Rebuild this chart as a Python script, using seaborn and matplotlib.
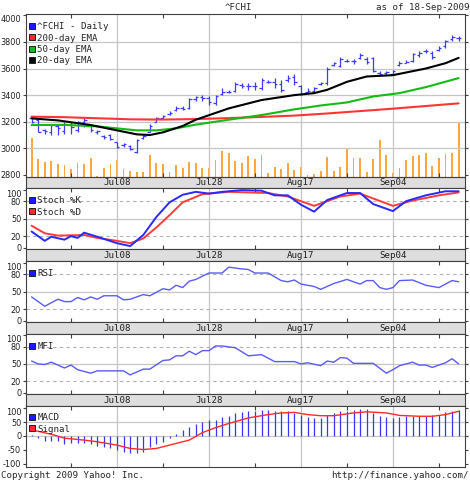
import matplotlib
matplotlib.use("Agg")
import matplotlib.pyplot as plt
from matplotlib.lines import Line2D
import pandas as pd
import seaborn as sns

# ---- values (day index 0 = 19-Jun-2009) ----
days = pd.bdate_range("2009-06-19", "2009-09-18")
label_days = ["2009-07-08", "2009-07-28", "2009-08-17", "2009-09-04"]
date_labels = ["Jul08", "Jul28", "Aug17", "Sep04"]
minor_days = ["2009-06-29", "2009-07-17", "2009-08-06", "2009-08-26", "2009-09-15"]

price_open = [3230, 3215, 3135, 3120, 3170, 3130, 3185, 3140, 3195, 3165,
              3125, 3095, 3100, 3045, 3025, 3020, 2975, 3080, 3125, 3200,
              3225, 3260, 3285, 3300, 3300, 3370, 3385, 3380, 3340, 3410,
              3425, 3430, 3475, 3465, 3470, 3450, 3500, 3500, 3480, 3510,
              3540, 3470, 3420, 3430, 3480, 3490, 3630, 3620, 3660, 3660,
              3680, 3670, 3680, 3570, 3565, 3560, 3630, 3645, 3660, 3700,
              3730, 3720, 3740, 3770, 3820, 3830]
price_high = [3237, 3220, 3146, 3183, 3183, 3195, 3195, 3207, 3232, 3171,
              3134, 3098, 3110, 3049, 3037, 3024, 3073, 3110, 3183, 3232,
              3250, 3280, 3317, 3315, 3378, 3395, 3402, 3390, 3402, 3451,
              3439, 3500, 3488, 3488, 3500, 3525, 3512, 3525, 3512, 3549,
              3561, 3476, 3451, 3464, 3500, 3610, 3647, 3683, 3671, 3671,
              3720, 3683, 3683, 3585, 3585, 3590, 3659, 3664, 3720, 3732,
              3744, 3732, 3769, 3817, 3849, 3842]
price_low = [3190, 3122, 3110, 3100, 3100, 3110, 3110, 3122, 3160, 3125,
             3110, 3073, 3061, 3000, 3012, 2988, 2963, 3073, 3122, 3195,
             3220, 3250, 3280, 3285, 3293, 3354, 3354, 3329, 3329, 3402,
             3415, 3427, 3451, 3439, 3439, 3439, 3488, 3451, 3427, 3500,
             3476, 3402, 3415, 3415, 3476, 3476, 3622, 3610, 3647, 3634,
             3671, 3634, 3573, 3549, 3549, 3549, 3622, 3639, 3647, 3683,
             3720, 3671, 3732, 3756, 3805, 3805]
price_close = [3200, 3125, 3130, 3175, 3150, 3185, 3160, 3195, 3215, 3135,
               3128, 3085, 3070, 3010, 3030, 2998, 3065, 3095, 3170, 3225,
               3240, 3265, 3305, 3295, 3370, 3385, 3380, 3345, 3390, 3420,
               3427, 3485, 3470, 3470, 3465, 3515, 3500, 3480, 3440, 3530,
               3500, 3410, 3430, 3450, 3490, 3600, 3640, 3670, 3660, 3655,
               3700, 3650, 3585, 3560, 3575, 3585, 3645, 3650, 3710, 3720,
               3735, 3690, 3755, 3805, 3835, 3830]
volume_m = [156, 72, 60, 64, 52, 48, 32, 56, 52, 76, 4, 36, 52, 68, 32, 24, 20, 20,
            88, 56, 52, 20, 48, 36, 60, 56, 36, 36, 68, 104, 96, 64, 56, 84, 72, 88,
            16, 40, 32, 56, 28, 40, 8, 12, 24, 80, 24, 40, 116, 76, 76, 20, 72, 148,
            88, 16, 36, 68, 84, 88, 96, 44, 76, 92, 96, 212]

ema200_day = [0, 5, 10, 15, 20, 25, 30, 35, 40, 45, 50, 55, 60, 65]
ema200 = [3238, 3234, 3226, 3218, 3216, 3220, 3227, 3236, 3246, 3262, 3280, 3298, 3318, 3338]
ema50_day = [0, 5, 10, 13, 16, 19, 22, 25, 30, 35, 40, 44, 48, 52, 56, 60, 65]
ema50 = [3175, 3176, 3165, 3150, 3135, 3135, 3150, 3178, 3215, 3250, 3293, 3322, 3345, 3390, 3415, 3460, 3528]
ema20_day = [0, 4, 9, 13, 16, 18, 20, 23, 25, 30, 35, 40, 43, 45, 48, 51, 55, 60, 63, 65]
ema20 = [3225, 3210, 3175, 3135, 3105, 3100, 3120, 3168, 3215, 3300, 3363, 3400, 3415, 3440,
         3500, 3540, 3550, 3600, 3640, 3680]

stoch_k_day = [0, 2, 3, 5, 6, 7, 8, 10, 13, 15, 17, 19, 21, 23, 25, 27, 29, 32, 35, 37, 39,
               41, 43, 45, 48, 50, 52, 55, 57, 60, 63, 65]
stoch_k = [28, 12, 19, 14, 20, 17, 26, 19, 8, 3, 22, 53, 78, 91, 96, 93, 96, 99, 98, 90, 90,
           74, 62, 82, 94, 94, 75, 63, 80, 90, 97, 97]
stoch_d_day = [0, 2, 4, 8, 10, 13, 15, 17, 19, 21, 23, 26, 30, 36, 39, 43, 47, 50, 55, 58, 62, 65]
stoch_d = [38, 25, 21, 22, 17, 12, 8, 16, 35, 56, 78, 92, 96, 94, 88, 72, 88, 93, 72, 81, 90, 95]

rsi_day = [0, 2, 4, 5, 6, 7, 8, 9, 10, 11, 13, 14, 15, 17, 18, 20, 21, 22, 23, 24, 25, 27,
           29, 30, 32, 33, 34, 36, 38, 39, 40, 41, 43, 44, 46, 48, 50, 51, 52, 53, 54, 55,
           56, 58, 60, 62, 64, 65]
rsi = [41, 25, 37, 33, 33, 40, 36, 41, 37, 43, 43, 36, 37, 45, 43, 55, 53, 61, 57, 68, 71, 82,
       82, 92, 89, 88, 82, 82, 69, 67, 70, 63, 59, 54, 64, 71, 63, 69, 69, 57, 54, 57,
       69, 70, 61, 57, 69, 67]

mfi_day = [0, 1, 2, 3, 5, 6, 7, 9, 10, 14, 15, 17, 18, 20, 21, 22, 23, 24, 25, 26, 27, 28,
           29, 31, 33, 35, 37, 40, 41, 42, 44, 45, 46, 47, 48, 49, 52, 54, 55, 56, 58, 59,
           60, 61, 63, 64, 65]
mfi = [55, 50, 49, 53, 43, 48, 40, 34, 38, 38, 31, 41, 41, 56, 57, 64, 64, 72, 66, 73, 73, 81,
       81, 78, 64, 66, 54, 54, 50, 52, 47, 55, 53, 61, 60, 51, 51, 34, 40, 47, 53, 48,
       48, 44, 52, 59, 50]

macd = [4, -8, -18, -20, -20, -29, -24, -27, -27, -29,
        -37, -41, -45, -51, -57, -61, -61, -57, -40, -30,
        -22, -8, 7, 20, 34, 44, 52, 56, 59, 68,
        71, 83, 85, 89, 89, 93, 95, 89, 89, 89,
        83, 74, 67, 65, 65, 74, 83, 91, 89, 95,
        98, 98, 83, 71, 68, 65, 67, 71, 73, 73,
        73, 74, 77, 85, 89, 95]
signal_day = [0, 3, 5, 8, 10, 13, 15, 17, 19, 21, 24, 26, 28, 30, 33, 36, 38, 40, 42, 44, 46,
              49, 51, 54, 56, 59, 61, 63, 65]
signal = [22, 6, -8, -15, -21, -33, -45, -49, -45, -33, -15, 12, 30, 45, 65, 77, 83, 85, 77,
          73, 73, 83, 87, 83, 74, 71, 71, 77, 89]

# ---- look ----
sns.set_style("white")
plt.rcParams["font.family"] = ["DejaVu Sans Mono"]
FS = 6.6
EDGE = "#404040"
GRID = "#c6c6c6"
BLUE = "#3c3cff"

W, H = 470, 480
fig = plt.figure(figsize=(W / 100, H / 100), dpi=100)
x_all = list(range(len(days)))
major_x = [days.get_loc(pd.Timestamp(d)) for d in label_days]
minor_x = [days.get_loc(pd.Timestamp(d)) for d in minor_days]
XLIM = (-0.85, 65.97)


def px_axes(top, bottom, left=26, right=465):
    return fig.add_axes([left / W, 1 - bottom / H, (right - left) / W, (bottom - top) / H])


def style(ax, ylim, yticks, solid=(), dashed=()):
    ax.set_xlim(XLIM)
    ax.set_ylim(ylim)
    for s in ax.spines.values():
        s.set_color(EDGE)
        s.set_linewidth(0.8)
    for x in major_x:
        ax.axvline(x, color=GRID, lw=0.9, zorder=0)
    for y in solid:
        ax.axhline(y, color=GRID, lw=0.9, zorder=0)
    for y in dashed:
        ax.axhline(y, color="#b0b0b0", lw=0.8, ls=(0, (3, 3)), zorder=0)
    ax.set_xticks(minor_x)
    ax.set_xticklabels([])
    ax.tick_params(axis="x", direction="in", length=3, top=True, bottom=True, color=EDGE)
    ax.set_yticks(yticks)
    ax.set_yticklabels([str(t) for t in yticks], fontfamily="DejaVu Sans", fontsize=5.9)
    ax.tick_params(axis="y", direction="out", length=2.5, left=True, right=True,
                   color=EDGE, pad=1, labelcolor="#202020")


def add_legend(ax, names, colors, top_px):
    h = ax.get_position().height * H
    handles = [Line2D([], [], marker="s", ls="none", markersize=5, markerfacecolor=c,
                      markeredgecolor="#202020", markeredgewidth=0.7) for c in colors]
    ax.legend(handles, names, loc="upper left", bbox_to_anchor=(2.5 / 439, 1 - top_px / h),
              frameon=False, fontsize=FS, handlelength=0.7, handletextpad=0.25,
              labelspacing=0.25, borderpad=0, borderaxespad=0)


def strip(top, bottom):
    s = px_axes(top, bottom)
    s.set_facecolor("#dedede")
    s.set_xlim(XLIM)
    s.set_ylim(0, 1)
    s.set_xticks([])
    s.set_yticks([])
    for sp in s.spines.values():
        sp.set_color(EDGE)
        sp.set_linewidth(0.8)
    for x, lab in zip(major_x, date_labels):
        s.text(x, 0.45, lab, ha="center", va="center", fontsize=FS, color="#202020")


# ---- main price panel ----
ax = px_axes(14, 176.5)
vax = ax.twinx()
vax.bar(x_all, volume_m, width=0.28, color="#ffa63c", linewidth=0)
vax.set_ylim(0, 650)
vax.set_axis_off()
ax.set_zorder(vax.get_zorder() + 1)
ax.patch.set_visible(False)

style(ax, (2788, 4010), [2800, 3000, 3200, 3400, 3600, 3800, 4000],
      solid=[3000, 3200, 3400, 3600, 3800])
ax.vlines(x_all, price_low, price_high, color=BLUE, lw=0.9)
ax.hlines(price_open, [i - 0.38 for i in x_all], x_all, color=BLUE, lw=0.9)
ax.hlines(price_close, x_all, [i + 0.38 for i in x_all], color=BLUE, lw=0.9)
sns.lineplot(x=ema200_day, y=ema200, ax=ax, color="#ff3434", linewidth=1.5)
sns.lineplot(x=ema50_day, y=ema50, ax=ax, color="#14bb14", linewidth=1.5)
sns.lineplot(x=ema20_day, y=ema20, ax=ax, color="#000000", linewidth=1.5)
add_legend(ax, ["^FCHI - Daily", "200-day EMA", "50-day EMA", "20-day EMA"],
           ["#1a1aff", "#ff2a2a", "#10c010", "#000000"], 8.4)
strip(176.5, 188)

# ---- stochastic ----
ax1 = px_axes(188, 249)
style(ax1, (-2, 102.6), [0, 20, 50, 80, 100], solid=[50], dashed=[20, 80])
sns.lineplot(x=stoch_d_day, y=stoch_d, ax=ax1, color="#ff3c3c", linewidth=1.4)
sns.lineplot(x=stoch_k_day, y=stoch_k, ax=ax1, color="#2a2aff", linewidth=1.4)
add_legend(ax1, ["Stoch %K", "Stoch %D"], ["#1a1aff", "#ff2a2a"], 8.4)
strip(249, 261)

# ---- RSI ----
ax2 = px_axes(261, 322)
style(ax2, (-2, 102.6), [0, 20, 50, 80, 100], solid=[50], dashed=[20, 80])
sns.lineplot(x=rsi_day, y=rsi, ax=ax2, color="#5a5aff", linewidth=1.0)
add_legend(ax2, ["RSI"], ["#1a1aff"], 8.4)
strip(322, 333.5)

# ---- MFI ----
ax3 = px_axes(333.5, 394)
style(ax3, (-2, 102.6), [0, 20, 50, 80, 100], solid=[50], dashed=[20, 80])
sns.lineplot(x=mfi_day, y=mfi, ax=ax3, color="#5a5aff", linewidth=1.0)
add_legend(ax3, ["MFI"], ["#1a1aff"], 8.4)
strip(394, 406)

# ---- MACD ----
ax4 = px_axes(406, 467)
style(ax4, (-112, 108), [-100, -50, 0, 50, 100], solid=[50, 0])
ax4.vlines(x_all, 0, macd, color="#3535ff", lw=0.9)
sns.lineplot(x=signal_day, y=signal, ax=ax4, color="#ff2a2a", linewidth=1.0)
add_legend(ax4, ["MACD", "Signal"], ["#1a1aff", "#ff2a2a"], 7.4)

for a in (ax, ax1, ax2, ax3, ax4):
    a.set_xlabel("")
    a.set_ylabel("")
    ticks = a.yaxis.get_major_ticks()
    ticks[-1].label1.set_va("top")

fig.text(238 / W, 1 - 7 / H, "^FCHI", ha="center", va="center", fontsize=FS)
fig.text(469 / W, 1 - 7 / H, "as of 18-Sep-2009", ha="right", va="center", fontsize=FS)
fig.text(1 / W, 1 - 475 / H, "Copyright 2009 Yahoo! Inc.", ha="left", va="center", fontsize=FS)
fig.text(469 / W, 1 - 475 / H, "http://finance.yahoo.com/", ha="right", va="center", fontsize=FS)

fig.savefig("out.png", dpi=100)
